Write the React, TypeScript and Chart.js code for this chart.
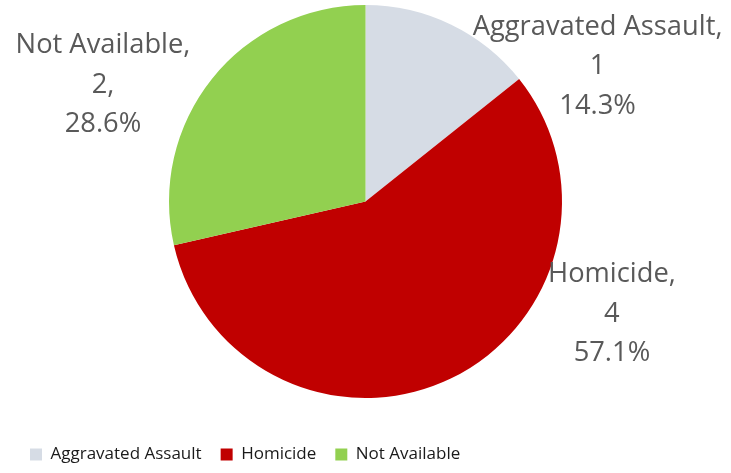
import React, { useEffect, useRef } from "react";
import { Chart, registerables } from "chart.js";

Chart.register(...registerables);

const categories = ["Aggravated Assault", "Homicide", "Not Available"];
const counts = [1, 4, 2];
const percents = ["14.3%", "57.1%", "28.6%"];
const countSuffix = ["", "", ","];
const colors = ["#D6DCE5", "#C00000", "#92D050"];

const labelPlacement = [
  { dx: 1.181, dy: -0.697 },
  { dx: 1.254, dy: 0.562 },
  { dx: -1.336, dy: -0.603 },
];

const sliceLabels = {
  id: "sliceLabels",
  afterDatasetsDraw(chart: any) {
    const meta = chart.getDatasetMeta(0);
    const ctx = chart.ctx;
    const fontSize = 27.3;
    const lineH = 39.5;
    ctx.save();
    ctx.font = `${fontSize}px "Open Sans", sans-serif`;
    ctx.fillStyle = "#595959";
    ctx.textAlign = "center";
    ctx.textBaseline = "alphabetic";
    meta.data.forEach((arc: any, i: number) => {
      const R = arc.outerRadius;
      const p = labelPlacement[i];
      const cx = arc.x + p.dx * R;
      const cy = arc.y + p.dy * R;
      const lines = [
        `${categories[i]},`,
        `${counts[i]}${countSuffix[i]}`,
        percents[i],
      ];
      lines.forEach((t, k) => {
        const y = cy + (k - 1) * lineH + 0.36 * fontSize;
        ctx.fillText(t, cx, y);
      });
    });
    ctx.restore();
  },
};

export default function App() {
  const ref = useRef<HTMLCanvasElement>(null);
  useEffect(() => {
    if (!ref.current) return;
    const chart = new Chart(ref.current, {
      type: "pie",
      data: {
        labels: categories,
        datasets: [
          {
            data: counts,
            backgroundColor: colors,
            borderWidth: 0,
            hoverOffset: 0,
          },
        ],
      },
      options: {
        animation: false,
        responsive: true,
        maintainAspectRatio: false,
        radius: 196.5,
        layout: { padding: { top: 0, left: 11, right: 11, bottom: 0 } },
        plugins: {
          tooltip: { enabled: false },
          title: {
            display: true,
            text: " ",
            position: "bottom",
            weight: 500,
            font: { size: 4, lineHeight: 1 },
            padding: { top: 20, bottom: 0 },
          },
          legend: {
            position: "bottom",
            align: "start",
            labels: {
              boxWidth: 12,
              boxHeight: 12,
              padding: 19,
              color: "#1a1a1a",
              font: { family: '"Open Sans", sans-serif', size: 17 },
            },
          },
        },
      } as any,
      plugins: [sliceLabels],
    });
    return () => chart.destroy();
  }, []);
  return (
    <div style={{ position: "absolute", left: 0, top: 0, width: 731, height: 473, background: "#fff" }}>
      <canvas ref={ref} />
    </div>
  );
}
